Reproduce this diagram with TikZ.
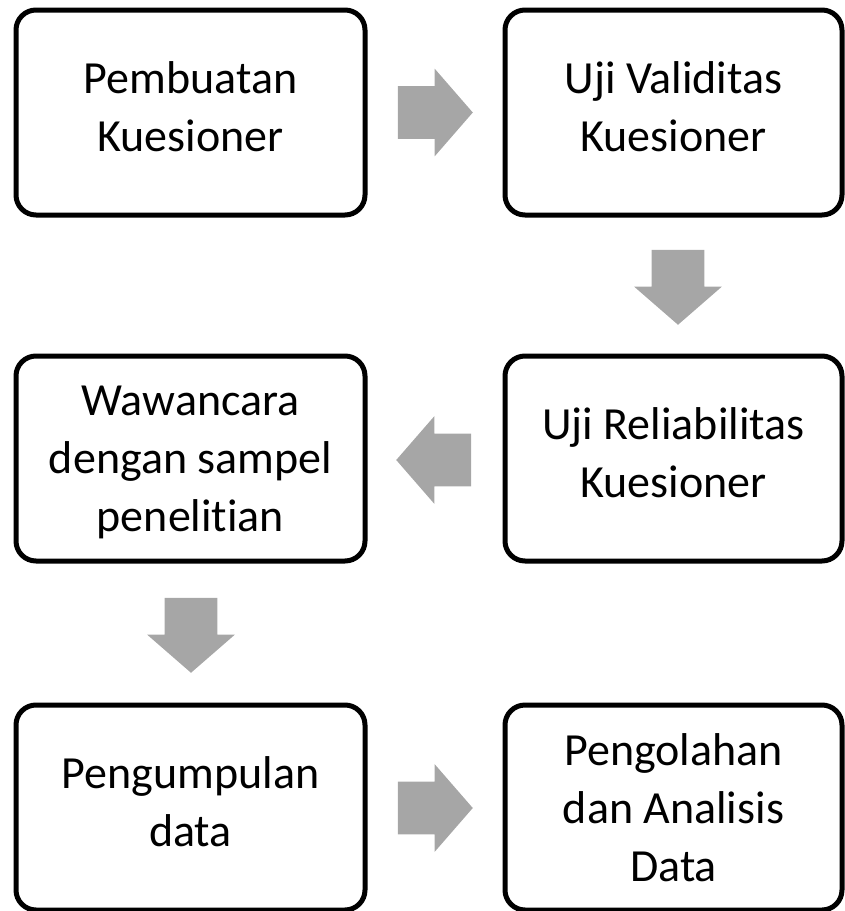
\documentclass[tikz,border=0pt]{standalone}
\usepackage{fontspec}
\setmainfont{Carlito}[Ligatures=NoCommon]
\usetikzlibrary{positioning,calc,shapes.arrows}
\usepackage{xcolor}
\definecolor{arrowgray}{RGB}{166,166,166}
\tikzset{
tahap/.style={
  draw,
  line width=3.75pt,
  rounded corners=15pt,
  minimum height=153.75pt,
  align=center,
  inner sep=0pt,
  text depth=0pt,
  font=\fontsize{34.5pt}{43.5pt}\selectfont
  },
kiri/.style={tahap,minimum width=261.75pt},
kanan/.style={tahap,minimum width=252.75pt},
dua/.style={text depth=8.5pt},
panah/.style={
  single arrow,
  fill=arrowgray,
  anchor=tail,
  inner xsep=0pt,
  inner ysep=19.5pt,
  minimum height=56.25pt,
  single arrow head extend=13.125pt,
  single arrow tip angle=98
  },
turun/.style={panah,shape border rotate=270,inner xsep=19.5pt,inner ysep=0pt},
}

\begin{document}
\begin{tikzpicture}[x=0.75pt,y=-0.75pt]
    \useasboundingbox (0,0) rectangle (844,911);
    \node [kiri,dua] (s1) at (190.5,112.5) {Pembuatan\\Kuesioner};
    \node [kanan,dua] (s2) at (673.5,112.5) {Uji Validitas\\Kuesioner};
    \node [kanan,dua] (s3) at (673.5,458.5) {Uji Reliabilitas\\Kuesioner};
    \node [kiri] (s4) at (190.5,458.5) {Wawancara\\dengan sampel\\penelitian};
    \node [kiri,dua] (s5) at (190.5,807.5) {Pengumpulan\\data};
    \node [kanan] (s6) at (673.5,807.5) {Pengolahan\\dan Analisis\\Data};

    \node [panah] (p12) at ($(s1.east)+(30,0)$) {};
    \node [turun] (p23) at ($(s2.south)+(4.5,32)$) {};
    \node [panah,shape border rotate=180] (p34) at ($(s3.west)+(-31,1.5)$) {};
    \node [turun] (p45) at ($(s4.south)+(0.5,34)$) {};
    \node [panah] (p56) at ($(s5.east)+(30,0.5)$) {};
\end{tikzpicture}
\end{document}
